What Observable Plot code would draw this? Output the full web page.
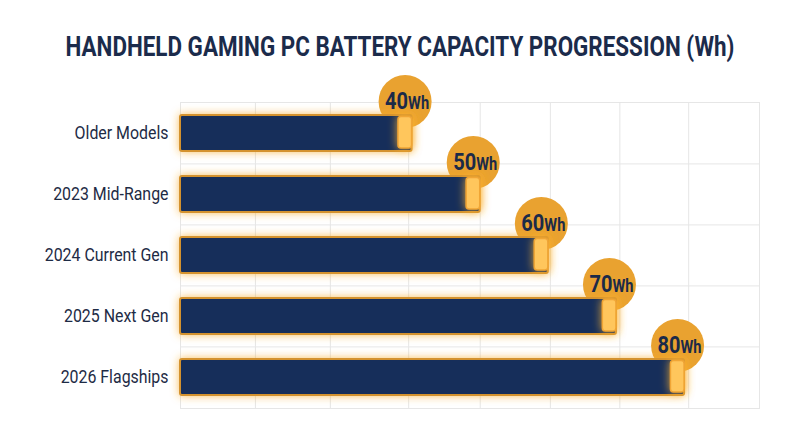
<!DOCTYPE html>
<html>
<head>
<meta charset="utf-8">
<script src="https://cdn.jsdelivr.net/npm/d3@7"></script>
<script src="https://cdn.jsdelivr.net/npm/@observablehq/plot@0.6"></script>
<style>
  html, body { margin: 0; padding: 0; background: #fff; }
  body { position: relative; width: 800px; height: 447px; overflow: hidden; font-family: Roboto, "Noto Sans", sans-serif; }
  #title { position: absolute; top: 33px; left: 400px; line-height: 28px; font-size: 28px; font-weight: 700; color: #1B2B4B; white-space: nowrap; transform-origin: 0 50%; }
  #chart { position: absolute; top: 62px; left: 0; }
</style>
</head>
<body>
<div id="title">HANDHELD GAMING PC BATTERY CAPACITY PROGRESSION (Wh)</div>
<div id="chart"></div>
<script>
const categories = ["Older Models", "2023 Mid-Range", "2024 Current Gen", "2025 Next Gen", "2026 Flagships"];
const capacities = [40, 50, 60, 70, 80];
const unit = "Wh";
const xDomain = [6, 91];
const gridValues = [17, 28, 39.5, 50, 60.3, 70.5, 80.6];

const rows = categories.map((c, i) => ({category: c, value: capacities[i]}));
const grid = "#e6e6e6";
const ink = "#1B2A48";
const barFill = "#172D5A";
const capFill = "#FFC65C";

const plot = Plot.plot({
  width: 800,
  height: 385,
  marginLeft: 180,
  marginRight: 41,
  marginTop: 40,
  marginBottom: 39,
  style: {fontFamily: "Roboto, sans-serif", fontSize: "18px", color: "#1e2b45", background: "transparent", overflow: "visible"},
  x: {domain: xDomain, axis: null},
  y: {domain: categories, paddingInner: 0.41, paddingOuter: 0.205, tickSize: 0, tickPadding: 12, label: null},
  marks: [
    Plot.frame({stroke: grid}),
    Plot.ruleX(gridValues, {stroke: grid}),
    Plot.ruleY(categories.slice(1), {y: d => d, dy: -30.6, stroke: grid}),
    Plot.dot(rows, {x: "value", y: "category", r: 26.5, fill: "#E9A230", dx: -7, dy: -32}),
    Plot.barX(rows, {x1: xDomain[0], x2: "value", y: "category", fill: barFill, stroke: "#D4922E", strokeWidth: 2, rx: 2}),
    Plot.barX(rows, {x1: d => d.value - 2, x2: "value", y: "category", fill: capFill, stroke: "#F0A535", strokeWidth: 1.5, rx: 3, insetTop: 1.5, insetBottom: 3}),
    Plot.text(rows, {x: "value", y: "category", text: d => String(d.value), textAnchor: "end", lineAnchor: "bottom", dx: -4, dy: -25, fontSize: 24, fontWeight: 700, fill: ink}),
    Plot.text(rows, {x: "value", y: "category", text: () => unit, textAnchor: "start", lineAnchor: "bottom", dx: -4, dy: -25, fontSize: 18, fontWeight: 700, fill: ink})
  ]
});
document.getElementById("chart").appendChild(plot);

// glow filters
const ns = "http://www.w3.org/2000/svg";
const defs = document.createElementNS(ns, "defs");
defs.innerHTML = `
<filter id="glow" x="-10%" y="-60%" width="120%" height="220%">
  <feGaussianBlur in="SourceAlpha" stdDeviation="4" result="b"/>
  <feFlood flood-color="#F7A928" flood-opacity="0.75"/>
  <feComposite in2="b" operator="in"/>
  <feMerge><feMergeNode/><feMergeNode in="SourceGraphic"/></feMerge>
</filter>
<filter id="glow2" x="-100%" y="-100%" width="300%" height="300%">
  <feGaussianBlur in="SourceAlpha" stdDeviation="5" result="b"/>
  <feFlood flood-color="#FFB52E" flood-opacity="0.85"/>
  <feComposite in2="b" operator="in"/>
  <feMerge><feMergeNode/><feMergeNode in="SourceGraphic"/></feMerge>
</filter>`;
plot.insertBefore(defs, plot.firstChild);

function groupWith(pred) {
  return Array.from(plot.querySelectorAll("g")).filter(pred);
}
const lc = s => (s || "").toLowerCase();
groupWith(g => lc(g.getAttribute("fill")) === barFill.toLowerCase()).forEach(g => g.setAttribute("filter", "url(#glow)"));
groupWith(g => lc(g.getAttribute("fill")) === capFill.toLowerCase()).forEach(g => g.setAttribute("filter", "url(#glow2)"));

// condensed look: squeeze text horizontally around its anchor
function squeeze(el, s) {
  const x = el.hasAttribute("x") ? (+el.getAttribute("x") || 0) : 0;
  if (el.hasAttribute("x")) el.setAttribute("x", 0);
  const t = el.getAttribute("transform") || "";
  el.setAttribute("transform", `${t} translate(${x},0) scale(${s},1)`);
}
function fitTexts(els, refText, target) {
  const ref = els.find(e => e.textContent === refText) || els[0];
  if (!ref) return;
  const w = ref.getBBox().width;
  const s = w > 0 ? target / w : 0.85;
  els.forEach(e => squeeze(e, s));
}
const allTexts = Array.from(plot.querySelectorAll("text"));
const numTexts = allTexts.filter(t => capacities.map(String).includes(t.textContent));
const unitTexts = allTexts.filter(t => t.textContent === unit);
const yTexts = allTexts.filter(t => categories.includes(t.textContent));
fitTexts(yTexts, "Older Models", 94);
fitTexts(numTexts, "80", 23);
fitTexts(unitTexts, unit, 21);

const title = document.getElementById("title");
const tw = title.getBoundingClientRect().width;
const ts = 669 / tw;
title.style.transform = `scaleX(${ts}) translateX(${-tw / 2}px)`;
</script>
</body>
</html>
